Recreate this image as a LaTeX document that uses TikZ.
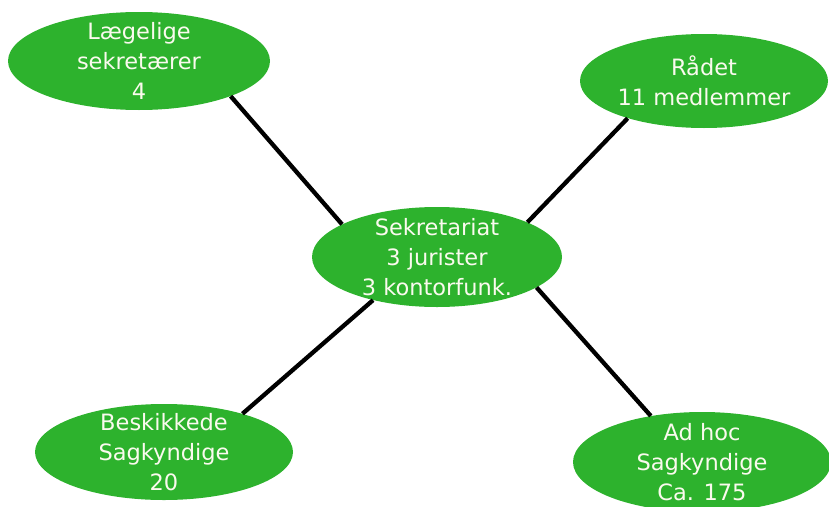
\documentclass[tikz,border=0pt]{standalone}
\usepackage{fontspec}
\setmainfont{DejaVu Sans}
\usetikzlibrary{shapes.geometric}
\definecolor{blobgreen}{RGB}{45,178,45}
\definecolor{blobtext}{RGB}{250,250,238}
\begin{document}
\begin{tikzpicture}[x=1pt,y=-1pt,
  blob/.style={ellipse,fill=blobgreen,draw=none,inner sep=0pt},
  txt/.style={text=blobtext,font=\fontsize{22.5}{30}\selectfont,align=center,inner sep=0pt},
  link/.style={line width=4.3pt,black,line cap=butt}]
\useasboundingbox (0,0) rectangle (829,506);
% ellipses
\node[blob,minimum width=262pt,minimum height=98pt] (tl) at (139,61) {};
\node[blob,minimum width=248pt,minimum height=94pt] (tr) at (704,81) {};
\node[blob,minimum width=250pt,minimum height=100pt] (c) at (437,257) {};
\node[blob,minimum width=258pt,minimum height=96pt] (bl) at (164,452) {};
\node[blob,minimum width=258pt,minimum height=100pt] (br) at (702,462) {};
% texts
\node[txt] (tltxt) at (tl.center) {Lægelige\\sekretærer\\4};
\node[txt] (trtxt) at (tr.center) {Rådet\\11 medlemmer};
\node[txt] (ctxt) at (c.center) {Sekretariat\\3 jurister\\3 kontorfunk.};
\node[txt] (bltxt) at (bl.center) {Beskikkede\\Sagkyndige\\20};
\node[txt] (brtxt) at (br.center) {Ad hoc\\Sagkyndige\\Ca. 175};
% connectors
\draw[link] (tl.-21) -- (c.161);
\draw[link] (tr.206.5) -- (c.21);
\draw[link] (bl.26) -- (c.214);
\draw[link] (br.138.5) -- (c.-17.6);
\end{tikzpicture}
\end{document}
